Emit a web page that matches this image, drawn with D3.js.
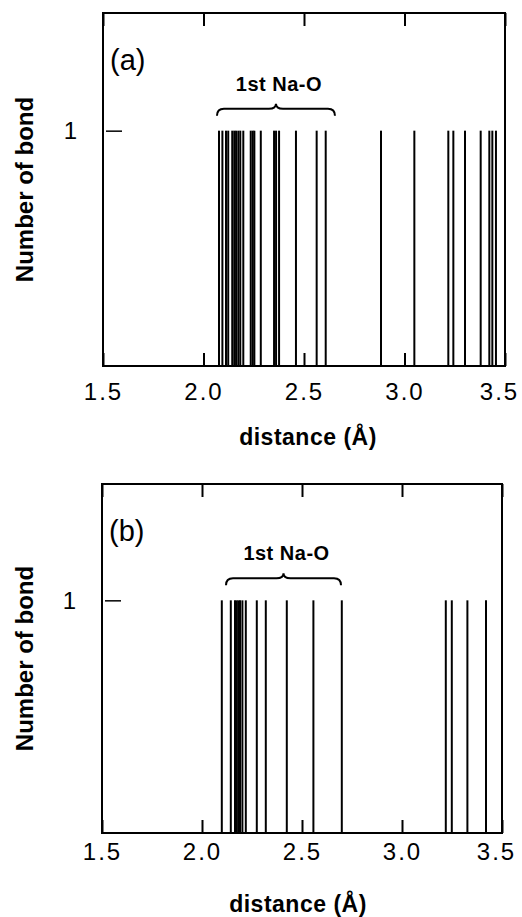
<!DOCTYPE html>
<html lang="en">
<head>
<meta charset="utf-8">
<title>Number of bond vs distance</title>
<script src="https://cdn.jsdelivr.net/npm/d3@7"></script>
<style>
  body { margin: 0; background: #fff; }
  svg text { font-family: "Liberation Sans", Arial, sans-serif; fill: #000; }
  .tick text { font-size: 24px; letter-spacing: 2px; }
  .title { font-weight: bold; }
  .frame { fill: none; stroke: #000; stroke-width: 2; }
  .bar { stroke: #000; stroke-width: 2; }
</style>
</head>
<body>
<div id="chart"></div>
<script>
// bond distances (Å), one bond each
var barsA = [2.077, 2.094, 2.112, 2.123, 2.143, 2.153, 2.162, 2.173, 2.183, 2.198,
             2.235, 2.245, 2.253, 2.285, 2.351, 2.361, 2.376, 2.460, 2.563, 2.608,
             2.883, 3.049, 3.218, 3.243, 3.301, 3.379, 3.422, 3.437, 3.455];
var barsB = [2.099, 2.144, 2.165, 2.174, 2.182, 2.190, 2.202, 2.219, 2.274, 2.319,
             2.424, 2.557, 2.699, 3.219, 3.249, 3.327, 3.420];

var xTicks = [1.5, 2.0, 2.5, 3.0, 3.5];
var yTicks = [1];
var braceA = [2.067, 2.654];
var braceB = [2.12, 2.695];

var w = 522, h = 917;

var svg = d3.select("#chart").append("svg")
  .attr("width", w)
  .attr("height", h);

function panel(bars, brace, tag, box) {
  var x = d3.scaleLinear().domain([1.5, 3.5]).range([box.left, box.right]);
  var y = d3.scaleLinear().domain([0, 1.5]).range([box.bottom, box.top]);
  var g = svg.append("g");

  // bars
  g.selectAll("line.bar")
    .data(bars)
    .enter()
    .append("line")
    .attr("class", "bar")
    .attr("x1", d => x(d)).attr("x2", d => x(d))
    .attr("y1", y(0)).attr("y2", y(1));

  // bottom axis, ticks point inward
  var xb = g.append("g")
    .attr("transform", "translate(0," + box.bottom + ")")
    .call(d3.axisBottom(x).tickValues(xTicks).tickFormat(d3.format(".1f"))
      .tickSizeInner(-13).tickSizeOuter(0).tickPadding(box.pad));
  xb.select(".domain").remove();
  xb.selectAll(".tick line").attr("stroke-width", 2);
  xb.selectAll(".tick text").filter(d => d === 3.5).attr("dx", -6);

  // top ticks
  var xt = g.append("g")
    .attr("transform", "translate(0," + box.top + ")")
    .call(d3.axisTop(x).tickValues(xTicks).tickFormat("")
      .tickSizeInner(-13).tickSizeOuter(0));
  xt.select(".domain").remove();
  xt.selectAll(".tick line").attr("stroke-width", 2);

  // left tick at 1
  var yl = g.append("g")
    .attr("transform", "translate(" + box.left + ",0)")
    .call(d3.axisLeft(y).tickValues(yTicks).tickFormat(d3.format("d"))
      .tickSizeInner(0).tickSizeOuter(0).tickPadding(24));
  yl.select(".domain").remove();
  yl.selectAll(".tick").append("line")
    .attr("x1", 3).attr("x2", 19)
    .attr("stroke", "#000").attr("stroke-width", 1.5);

  g.append("rect")
    .attr("class", "frame")
    .attr("x", box.left).attr("y", box.top)
    .attr("width", box.right - box.left)
    .attr("height", box.bottom - box.top);

  // panel tag
  g.append("text")
    .attr("x", box.left + 7)
    .attr("y", box.top + 57)
    .style("font-size", "29px")
    .text(tag);

  // brace over first shell
  var x1 = x(brace[0]), x2 = x(brace[1]), xm = (x1 + x2) / 2;
  var yt = y(1) - 27, ym = yt + 5, yb = yt + 12, r = 7;
  g.append("path")
    .attr("d", "M" + x1 + "," + yb +
      " Q" + x1 + "," + ym + " " + (x1 + r) + "," + ym +
      " L" + (xm - r) + "," + ym +
      " Q" + xm + "," + ym + " " + xm + "," + yt +
      " Q" + xm + "," + ym + " " + (xm + r) + "," + ym +
      " L" + (x2 - r) + "," + ym +
      " Q" + x2 + "," + ym + " " + x2 + "," + yb)
    .attr("fill", "none")
    .attr("stroke", "#000")
    .attr("stroke-width", 2);

  g.append("text")
    .attr("class", "title")
    .attr("x", xm + 3)
    .attr("y", yt - 13)
    .attr("text-anchor", "middle")
    .style("font-size", "20px")
    .style("letter-spacing", "0.5px")
    .text("1st Na-O");

  // axis titles
  g.append("text")
    .attr("class", "title")
    .attr("x", box.titleX)
    .attr("y", box.bottom + 79)
    .attr("text-anchor", "middle")
    .style("font-size", "23px")
    .style("letter-spacing", "0.5px")
    .text("distance (Å)");

  g.append("text")
    .attr("class", "title")
    .attr("transform", "translate(33," + (box.bottom + box.top) / 2 + ") rotate(-90)")
    .attr("text-anchor", "middle")
    .style("font-size", "24px")
    .text("Number of bond");
}

panel(barsA, braceA, "(a)", {left: 103, right: 505, top: 13, bottom: 366, titleX: 308, pad: 17});
panel(barsB, braceB, "(b)", {left: 102, right: 502, top: 484, bottom: 833, titleX: 298, pad: 10});
</script>
</body>
</html>
